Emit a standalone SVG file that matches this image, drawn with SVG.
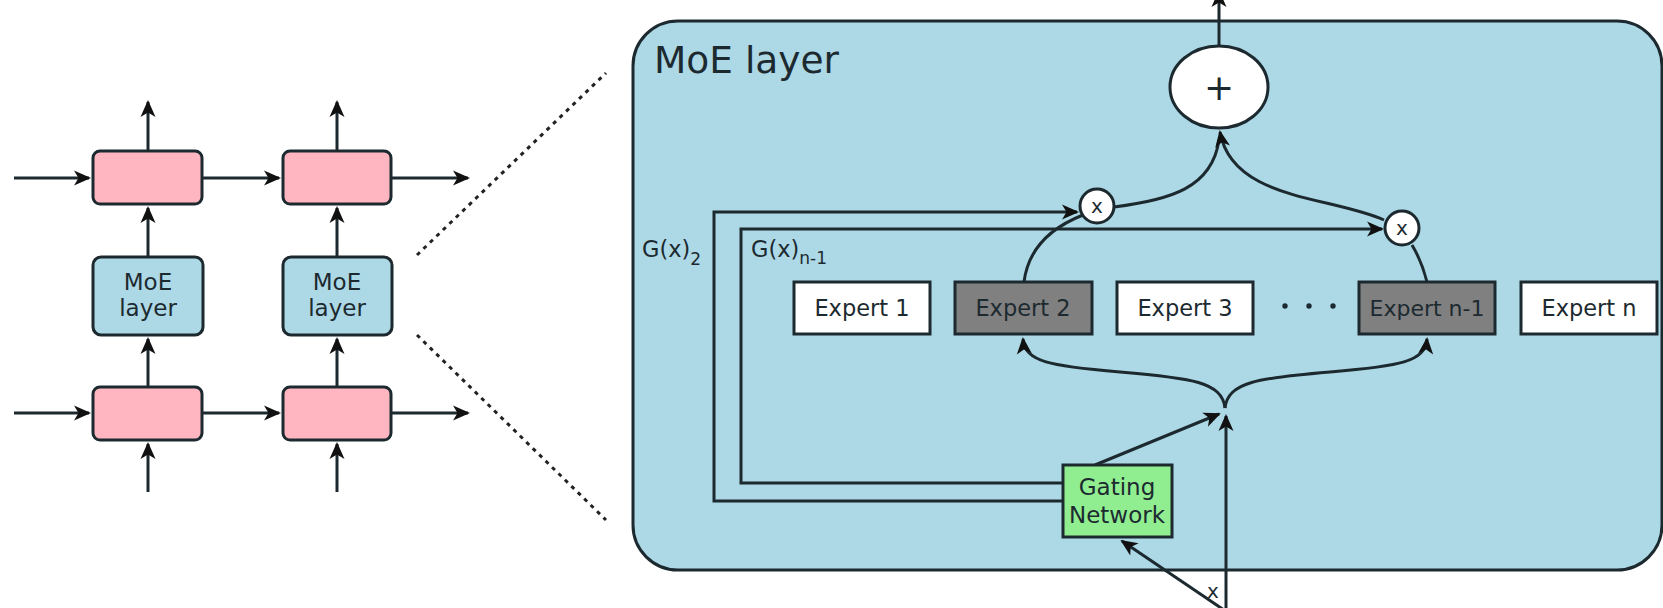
<svg xmlns="http://www.w3.org/2000/svg" width="1663" height="608" viewBox="0 0 1663 608">
  <style>
    .ln { fill: none; stroke: #1c2a30; stroke-width: 3; }
    .arr { marker-end: url(#ah); }
    .dot { fill: none; stroke: #222; stroke-width: 3; stroke-dasharray: 4 5; }
    .pink { fill: #ffb6c1; stroke: #1c2a30; stroke-width: 3; }
    .blue { fill: #add8e6; stroke: #1c2a30; stroke-width: 3; }
    .exp { fill: #ffffff; stroke: #1c2a30; stroke-width: 3; }
    .expd { fill: #808080; stroke: #1c2a30; stroke-width: 3; }
    .gate { fill: #90ee90; stroke: #1c2a30; stroke-width: 3; }
    .op { fill: #ffffff; stroke: #1c2a30; stroke-width: 3; }
    .t { font-family: "DejaVu Sans", Verdana, sans-serif; fill: #1c2a30; }
    .c { text-anchor: middle; }
  </style>
  <defs>
    <marker id="ah" viewBox="-17 -9 20 18" refX="0" refY="0" markerWidth="20" markerHeight="18" markerUnits="userSpaceOnUse" orient="auto">
      <path d="M2,0 L-15,-7.5 L-10.5,0 L-15,7.5 Z" fill="#111"/>
    </marker>
  </defs>

  <!-- stacked layers on the left -->
  <g id="left-connectors">
    <path class="ln arr" d="M14,178 H89"/>
    <path class="ln arr" d="M202,178 H279"/>
    <path class="ln arr" d="M391,178 H468"/>
    <path class="ln arr" d="M14,413 H89"/>
    <path class="ln arr" d="M202,413 H279"/>
    <path class="ln arr" d="M391,413 H468"/>
    <path class="ln arr" d="M148,151 V102"/>
    <path class="ln arr" d="M148,257 V208"/>
    <path class="ln arr" d="M148,387 V339"/>
    <path class="ln arr" d="M148,492 V444"/>
    <path class="ln arr" d="M337,151 V102"/>
    <path class="ln arr" d="M337,257 V208"/>
    <path class="ln arr" d="M337,387 V339"/>
    <path class="ln arr" d="M337,492 V444"/>
  </g>
  <g id="layer-top-1"><rect class="pink" x="93" y="151" width="109" height="53" rx="7"/></g>
  <g id="layer-top-2"><rect class="pink" x="283" y="151" width="108" height="53" rx="7"/></g>
  <g id="moe-1">
    <rect class="blue" x="93" y="257" width="110" height="78" rx="8"/>
    <text class="t c" x="148" y="290" font-size="23">MoE</text>
    <text class="t c" x="148" y="316" font-size="23">layer</text>
  </g>
  <g id="moe-2">
    <rect class="blue" x="283" y="257" width="109" height="78" rx="8"/>
    <text class="t c" x="337" y="290" font-size="23">MoE</text>
    <text class="t c" x="337" y="316" font-size="23">layer</text>
  </g>
  <g id="layer-bottom-1"><rect class="pink" x="93" y="387" width="109" height="53" rx="7"/></g>
  <g id="layer-bottom-2"><rect class="pink" x="283" y="387" width="108" height="53" rx="7"/></g>

  <!-- zoom guides -->
  <g id="zoom-lines">
    <path class="dot" d="M417,255 L606,73"/>
    <path class="dot" d="M417,335 L606,520"/>
  </g>

  <!-- expanded MoE layer -->
  <g id="moe-layer">
    <rect x="633" y="21" width="1029" height="549" rx="45" fill="#add8e6" stroke="#1c2a30" stroke-width="3"/>
    <text class="t" x="654" y="73" font-size="37.5">MoE layer</text>
  </g>

  <g id="connectors">
    <!-- output of the sum -->
    <path class="ln arr" d="M1219,46 V-8"/>
    <!-- weighted outputs into the sum -->
    <path class="ln" d="M1114,207 C1170,200 1212,188 1219,140"/>
    <path class="ln arr" d="M1384,220 C1330,196 1232,200 1220,132"/>
    <!-- expert outputs into the multipliers -->
    <path class="ln" d="M1024,282 C1028,250 1050,228 1083,215"/>
    <path class="ln" d="M1427,282 C1423,266 1418,255 1412,245"/>
    <!-- gate values -->
    <path class="ln arr" d="M1063,501 H714 V212 H1077"/>
    <path class="ln arr" d="M1063,483 H741 V229 H1382"/>
    <!-- input dispatch to selected experts -->
    <path class="ln arr" d="M1225,408 C1222,382 1192,378 1120,372 C1050,366 1025,362 1023,339"/>
    <path class="ln arr" d="M1225,408 C1228,382 1258,378 1330,372 C1400,366 1425,362 1427,339"/>
    <!-- gating network to dispatch -->
    <path class="ln arr" d="M1095,465 L1219,414"/>
    <!-- input x -->
    <path class="ln arr" d="M1226,610 V416"/>
    <path class="ln arr" d="M1224,610 L1122,541"/>
  </g>

  <g id="sum">
    <ellipse class="op" cx="1219" cy="87" rx="49" ry="41"/>
    <text class="t c" x="1219" y="100" font-size="36">+</text>
  </g>
  <g id="mult-2">
    <circle class="op" cx="1097" cy="206" r="17"/>
    <text class="t c" x="1097" y="213" font-size="20">x</text>
  </g>
  <g id="mult-n-1">
    <circle class="op" cx="1402" cy="228" r="17"/>
    <text class="t c" x="1402" y="235" font-size="20">x</text>
  </g>

  <g id="label-g2">
    <text class="t" x="642" y="257" font-size="22.5">G(x)<tspan font-size="17" dy="8">2</tspan></text>
  </g>
  <g id="label-gn-1">
    <text class="t" x="751" y="257" font-size="22.5">G(x)<tspan font-size="17" dy="7">n-1</tspan></text>
  </g>

  <g id="expert-1">
    <rect class="exp" x="794" y="282" width="136" height="52"/>
    <text class="t c" x="862" y="316" font-size="22.5">Expert 1</text>
  </g>
  <g id="expert-2">
    <rect class="expd" x="955" y="282" width="137" height="52"/>
    <text class="t c" x="1023" y="316" font-size="22.5">Expert 2</text>
  </g>
  <g id="expert-3">
    <rect class="exp" x="1117" y="282" width="136" height="52"/>
    <text class="t c" x="1185" y="316" font-size="22.5">Expert 3</text>
  </g>
  <g id="ellipsis">
    <circle cx="1285" cy="306" r="2.7" fill="#1c2a30"/>
    <circle cx="1309" cy="306" r="2.7" fill="#1c2a30"/>
    <circle cx="1333" cy="306" r="2.7" fill="#1c2a30"/>
  </g>
  <g id="expert-n-1">
    <rect class="expd" x="1359" y="282" width="136" height="52"/>
    <text class="t c" x="1427" y="316" font-size="22">Expert n-1</text>
  </g>
  <g id="expert-n">
    <rect class="exp" x="1521" y="282" width="136" height="52"/>
    <text class="t c" x="1589" y="316" font-size="22.5">Expert n</text>
  </g>

  <g id="gating-network">
    <rect class="gate" x="1063" y="465" width="109" height="72"/>
    <text class="t c" x="1117" y="495" font-size="23" fill="#12361a">Gating</text>
    <text class="t c" x="1117" y="523" font-size="23" fill="#12361a">Network</text>
  </g>

  <g id="input-label">
    <text class="t" x="1207" y="598" font-size="20">x</text>
  </g>
</svg>
